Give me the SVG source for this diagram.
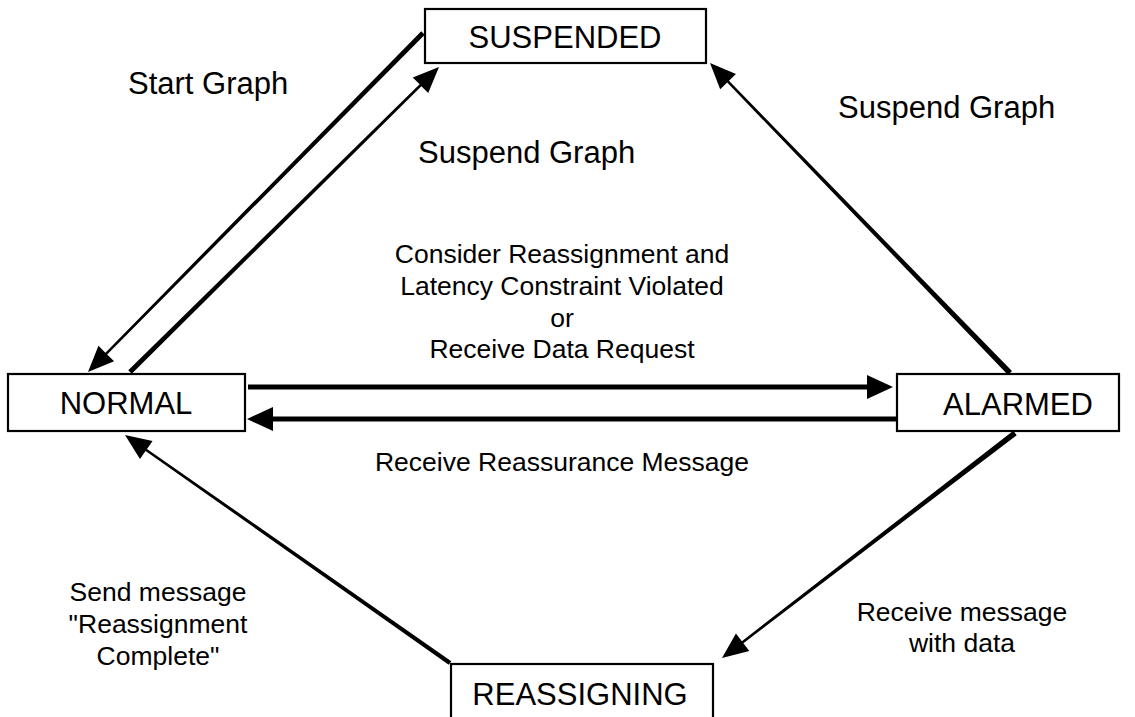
<svg xmlns="http://www.w3.org/2000/svg" width="1135" height="717" viewBox="0 0 1135 717">
<style>
.box{fill:#fff;stroke:#000;stroke-width:2.2}
.big{font-family:"Liberation Sans",Arial,sans-serif;font-size:31px;fill:#000}
.lbl{font-family:"Liberation Sans",Arial,sans-serif;font-size:26.5px;fill:#000}
.mid{text-anchor:middle}
.conn{fill:#000;stroke:none}
</style>
<rect width="1135" height="717" fill="#fff"/>
<g id="connectors">
<path class="conn" d="M421.22,31.24 L105.39,352.63 L98.46,345.78 L88,372 L114.10,361.24 L107.17,354.39 L424.78,34.76 Z"/>
<path class="conn" d="M131.76,373.78 L421.38,86.15 L428.23,93.09 L439,67 L412.77,77.43 L419.62,84.37 L128.24,370.22 Z"/>
<path class="conn" d="M1011.98,371.09 L728.98,80.81 L735.98,74.03 L710,63 L720.18,89.33 L727.18,82.55 L1008.02,374.91 Z"/>
<path class="conn" d="M248,384.5 L867,384.5 L867,375 L893,387 L867,399 L867,389.5 L248,389.5 Z"/>
<path class="conn" d="M897,416.5 L273,416.5 L273,407 L247,419 L273,431 L273,421.5 L897,421.5 Z"/>
<path class="conn" d="M1013.32,430.82 L741.86,641.17 L735.92,633.43 L722,658 L749.32,650.89 L743.38,643.15 L1016.68,435.18 Z"/>
<path class="conn" d="M451.29,661.16 L147.0,448.91 L152.60,440.93 L125,435 L139.96,458.93 L145.56,450.95 L448.71,664.84 Z"/>
</g>
<g id="labels">
<text class="big" x="128" y="94">Start Graph</text>
<text class="big" x="418" y="163">Suspend Graph</text>
<text class="big" x="838" y="118">Suspend Graph</text>
<text class="lbl mid" x="562" y="263">Consider Reassignment and</text>
<text class="lbl mid" x="562" y="295">Latency Constraint Violated</text>
<text class="lbl mid" x="562" y="327">or</text>
<text class="lbl mid" x="562" y="358">Receive Data Request</text>
<text class="lbl mid" x="562" y="471">Receive Reassurance Message</text>
<text class="lbl mid" x="158" y="601">Send message</text>
<text class="lbl mid" x="158" y="633">"Reassignment</text>
<text class="lbl mid" x="158" y="665">Complete"</text>
<text class="lbl mid" x="962" y="621">Receive message</text>
<text class="lbl mid" x="962" y="652">with data</text>
</g>
<g id="node-suspended">
<rect class="box" x="425" y="9" width="281" height="54"/>
<text class="big mid" x="565" y="48">SUSPENDED</text>
</g>
<g id="node-normal">
<rect class="box" x="8" y="374" width="237" height="57"/>
<text class="big mid" x="126" y="414">NORMAL</text>
</g>
<g id="node-alarmed">
<rect class="box" x="897" y="374" width="222" height="57"/>
<text class="big mid" x="1018" y="415">ALARMED</text>
</g>
<g id="node-reassigning">
<rect class="box" x="451" y="664" width="262" height="60"/>
<text class="big mid" x="580" y="705">REASSIGNING</text>
</g>
</svg>
